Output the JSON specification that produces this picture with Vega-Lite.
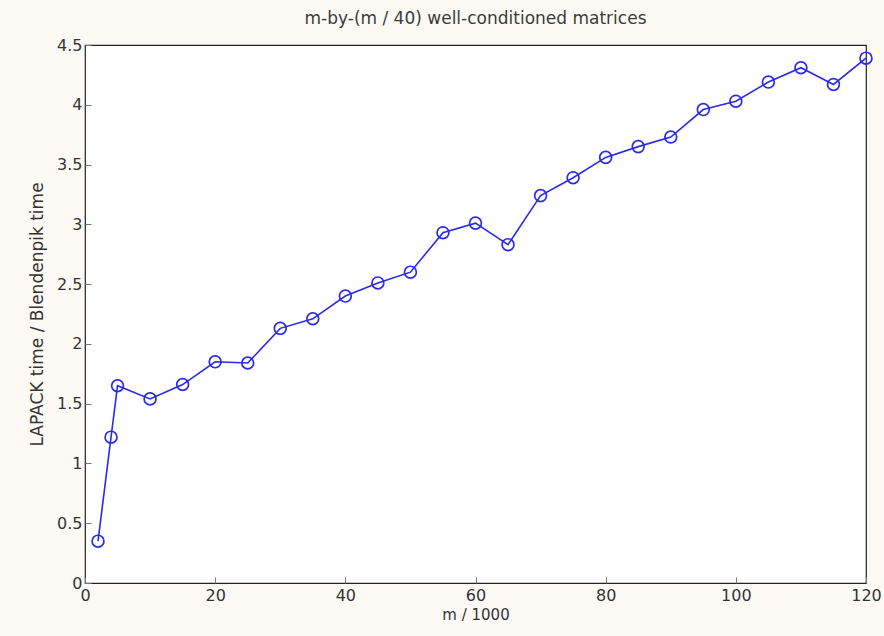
{
  "$schema": "https://vega.github.io/schema/vega-lite/v6.json",
  "autosize": "none",
  "width": 781,
  "height": 538,
  "padding": {"left": 85, "top": 45, "right": 18, "bottom": 53},
  "background": "#fdfaf6",
  "title": {"text": "m-by-(m / 40) well-conditioned matrices", "font": "DejaVu Sans", "fontSize": 17, "fontWeight": "normal", "color": "#3a3a3a", "offset": 9},
  "config": {
    "view": {"stroke": "#222222", "strokeWidth": 1.2, "fill": "white"},
    "axis": {"labelFont": "DejaVu Sans", "titleFont": "DejaVu Sans", "labelFontSize": 17, "titleFontSize": 17, "labelColor": "#333333", "titleColor": "#333333", "titleFontWeight": "normal", "grid": false, "domain": false, "tickColor": "#777777", "tickSize": -6}
  },
  "data": {"values": [
    {"m": 2, "r": 0.35}, {"m": 4, "r": 1.22}, {"m": 5, "r": 1.65}, {"m": 10, "r": 1.54},
    {"m": 15, "r": 1.66}, {"m": 20, "r": 1.85}, {"m": 25, "r": 1.84}, {"m": 30, "r": 2.13},
    {"m": 35, "r": 2.21}, {"m": 40, "r": 2.40}, {"m": 45, "r": 2.51}, {"m": 50, "r": 2.60},
    {"m": 55, "r": 2.93}, {"m": 60, "r": 3.01}, {"m": 65, "r": 2.83}, {"m": 70, "r": 3.24},
    {"m": 75, "r": 3.39}, {"m": 80, "r": 3.56}, {"m": 85, "r": 3.65}, {"m": 90, "r": 3.73},
    {"m": 95, "r": 3.96}, {"m": 100, "r": 4.03}, {"m": 105, "r": 4.19}, {"m": 110, "r": 4.31},
    {"m": 115, "r": 4.17}, {"m": 120, "r": 4.39}
  ]},
  "encoding": {
    "x": {"field": "m", "type": "quantitative", "scale": {"domain": [0, 120], "nice": false, "zero": false}, "axis": {"values": [0, 20, 40, 60, 80, 100, 120], "title": "m / 1000", "titlePadding": 4, "labelPadding": 10, "labelFontSize": 16, "titleFontSize": 15, "labelFlush": false, "labelOverlap": false}},
    "y": {"field": "r", "type": "quantitative", "scale": {"domain": [0, 4.5], "nice": false}, "axis": {"values": [0, 0.5, 1, 1.5, 2, 2.5, 3, 3.5, 4, 4.5], "format": "~g", "title": "LAPACK time / Blendenpik time", "titlePadding": 10, "labelPadding": 9, "labelFontSize": 16, "labelFlush": false, "labelOverlap": false}}
  },
  "layer": [
    {"mark": {"type": "line", "color": "#2a2ae8", "strokeWidth": 1.6}},
    {"mark": {"type": "point", "shape": "circle", "filled": false, "color": "#2a2ae8", "size": 140, "strokeWidth": 1.7, "opacity": 1}}
  ]
}
